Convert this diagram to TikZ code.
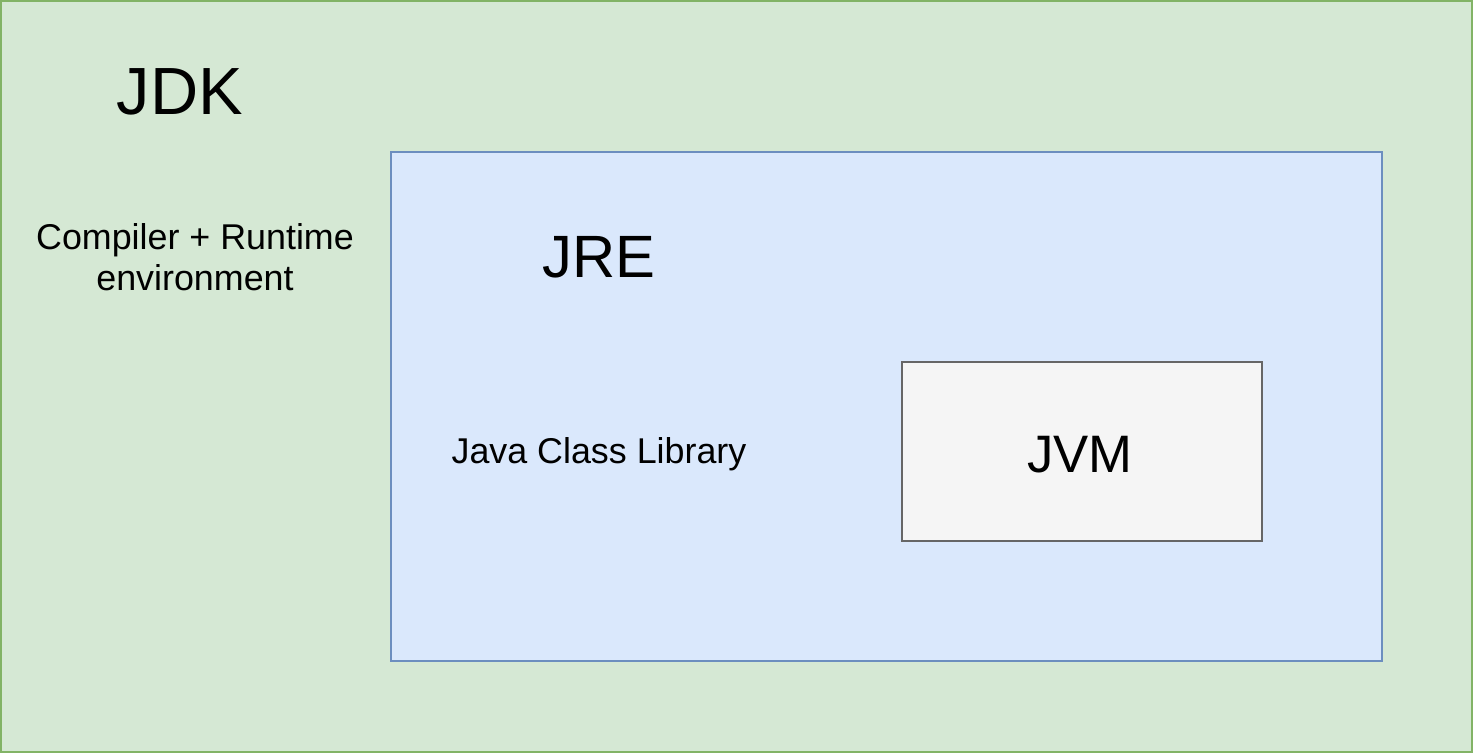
\documentclass[tikz,border=0pt]{standalone}
\usepackage{fontspec}
\setmainfont{Liberation Sans}
\definecolor{jdkfill}{HTML}{D5E8D4}
\definecolor{jdkline}{HTML}{82B366}
\definecolor{jrefill}{HTML}{DAE8FC}
\definecolor{jreline}{HTML}{6C8EBF}
\definecolor{jvmfill}{HTML}{F5F5F5}
\definecolor{jvmline}{HTML}{666666}

\begin{document}
\begin{tikzpicture}[x=0.02cm, y=-0.02cm]
            \tikzstyle{layer} = [line width=1.5pt]
            \tikzstyle{title} = [anchor=base, inner sep=0pt]
            \useasboundingbox (0, 0) rectangle (1473, 753);
            \draw[layer, draw=jdkline, fill=jdkfill] (1, 1) rectangle (1472, 752);
            \draw[layer, draw=jreline, fill=jrefill] (391, 152) rectangle (1382, 661);
            \draw[layer, draw=jvmline, fill=jvmfill] (902, 362) rectangle (1262, 541);
            \node[title, font=\fontsize{38}{44}\selectfont] (jdk) at (180, 115) {JDK};
            \node[title, font=\fontsize{20.4}{22.7}\selectfont] (compiler) at (195, 250) {Compiler + Runtime};
            \node[title, font=\fontsize{20.4}{22.7}\selectfont] (env) at (195, 290) {environment};
            \node[title, font=\fontsize{34}{40}\selectfont] (jre) at (599, 277) {JRE};
            \node[title, font=\fontsize{20.4}{22.7}\selectfont] (library) at (599, 463) {Java Class Library};
            \node[title, font=\fontsize{30}{36}\selectfont] (jvm) at (1080, 472) {JVM};
        \end{tikzpicture}
\end{document}
